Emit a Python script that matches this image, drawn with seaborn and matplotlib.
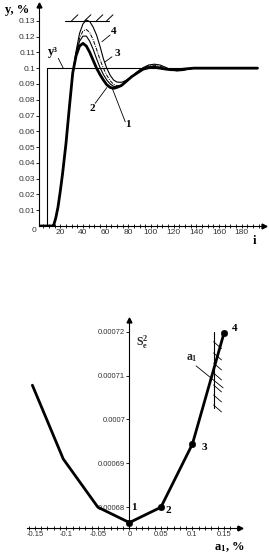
import numpy as np
import pandas as pd
import matplotlib
matplotlib.use("Agg")
import matplotlib.pyplot as plt
import seaborn as sns

# ---------------- data ----------------
i_vals = [1, 13, 14, 16, 18, 20, 22, 25, 28, 31, 34, 37, 40, 43, 46, 49, 52, 55, 58, 61,
          64, 67, 70, 74, 78, 83, 88, 93, 98, 103, 108, 113, 118, 123, 128, 133, 138, 194]
rise = [0, 0, 0, 0.005, 0.012, 0.022, 0.033, 0.052, 0.075, 0.097]
y_curve1 = rise + [0.108, 0.114, 0.1157, 0.114, 0.110, 0.105, 0.100, 0.096, 0.0925, 0.0895,
                   0.0878, 0.0872, 0.0878, 0.089, 0.0915, 0.0946, 0.097, 0.0993, 0.1003, 0.1005,
                   0.1000, 0.0994, 0.0990, 0.0990, 0.0993, 0.0997, 0.1, 0.1]
y_curve2 = rise + [0.109, 0.117, 0.1203, 0.1203, 0.117, 0.112, 0.106, 0.1005, 0.096, 0.0925,
                   0.0900, 0.0885, 0.0882, 0.089, 0.0915, 0.0946, 0.0972, 0.0996, 0.1008, 0.1010,
                   0.1005, 0.0995, 0.0988, 0.0987, 0.0990, 0.0996, 0.1, 0.1]
y_curve3 = rise + [0.110, 0.119, 0.1235, 0.1245, 0.1225, 0.118, 0.112, 0.1055, 0.100, 0.0955,
                   0.0920, 0.0898, 0.0888, 0.0895, 0.0915, 0.0946, 0.0975, 0.1000, 0.1015, 0.1018,
                   0.1012, 0.1000, 0.0988, 0.0985, 0.0988, 0.0995, 0.1, 0.1]
y_curve4 = rise + [0.111, 0.122, 0.128, 0.1305, 0.1295, 0.1260, 0.121, 0.114, 0.106, 0.100,
                   0.0955, 0.0925, 0.0912, 0.0910, 0.0922, 0.0946, 0.0978, 0.1003, 0.1020, 0.1025,
                   0.1020, 0.1005, 0.0988, 0.0982, 0.0985, 0.0993, 0.1, 0.1]
setpoint_i = [8.6, 8.6, 194]
setpoint_y = [0, 0.1, 0.1]
y_ticks = [0.01, 0.02, 0.03, 0.04, 0.05, 0.06, 0.07, 0.08, 0.09, 0.1, 0.11, 0.12, 0.13]
y_ticklabels = ["0.01", "0.02", "0.03", "0.04", "0.05", "0.06", "0.07", "0.08", "0.09",
                "0.1", "0.11", "0.12", "0.13"]
i_ticks = [20, 40, 60, 80, 100, 120, 140, 160, 180]

a1_vals = [-0.154, -0.105, -0.05, 0.0, 0.05, 0.1, 0.15]
s2_vals = [0.0007078, 0.000691, 0.00068, 0.0006765, 0.00068, 0.0006944, 0.0007196]
a1_dots = [0.0, 0.05, 0.1, 0.15]
s2_dots = [0.0006765, 0.00068, 0.0006944, 0.0007196]
dot_labels = ["1", "2", "3", "4"]
a1_ticks = [-0.15, -0.1, -0.05, 0, 0.05, 0.1, 0.15]
a1_ticklabels = ["-0.15", "-0.1", "-0.05", "0", "0.05", "0.1", "0.15"]
s2_ticks = [0.00068, 0.00069, 0.0007, 0.00071, 0.00072]
s2_ticklabels = ["0.00068", "0.00069", "0.0007", "0.00071", "0.00072"]

# ---------------- style ----------------
sns.set_theme(style="white")
plt.rcParams["font.family"] = ["Liberation Sans", "DejaVu Sans"]
plt.rcParams["mathtext.fontset"] = "custom"
plt.rcParams["mathtext.bf"] = "Liberation Serif:bold"
plt.rcParams["mathtext.rm"] = "Liberation Serif"
plt.rcParams["mathtext.it"] = "Liberation Serif:italic"

W, H = 269, 559
fig = plt.figure(figsize=(W / 100, H / 100), dpi=100)
serif_b = dict(family="Liberation Serif", weight="bold", color="black")
tick_col = "#333333"

# ================= top chart =================
ax = fig.add_axes([39.3 / W, 333 / H, 225 / W, 221 / H])
curves = [(y_curve2, 0.8, "-"), (y_curve3, 0.7, (0, (4, 1.2, 1, 1.2))),
          (y_curve4, 0.8, "-"), (y_curve1, 2.0, "-")]
for ys, lw, ls in curves:
    sns.lineplot(x=i_vals, y=ys, ax=ax, color="black", linewidth=lw, linestyle=ls,
                 estimator=None, sort=False)
sns.lineplot(x=setpoint_i, y=setpoint_y, ax=ax, color="black", linewidth=0.8,
             estimator=None, sort=False)

ax.set_xlim(1.5, 200)
ax.set_ylim(0, 0.14)
for s in ["top", "right"]:
    ax.spines[s].set_visible(False)
for s in ["left", "bottom"]:
    ax.spines[s].set_color("black")
    ax.spines[s].set_linewidth(0.8)
ax.set_yticks(y_ticks)
ax.set_yticklabels(y_ticklabels)
ax.set_xticks(i_ticks)
ax.set_xticks(np.arange(5, 200, 5), minor=True)
ax.tick_params(axis="x", which="both", direction="inout", length=3, width=0.6,
               labelsize=6, pad=0.5, colors="black", labelcolor=tick_col, bottom=True)
ax.tick_params(axis="y", which="major", direction="out", length=2.5, width=0.6,
               labelsize=6, pad=0.5, colors="black", labelcolor=tick_col, left=True)
ax.grid(False)
ax.plot(1, 0, ">", color="black", markersize=3.5, transform=ax.transAxes, clip_on=False)
ax.plot(0, 1, "^", color="black", markersize=3.5, transform=ax.transAxes, clip_on=False)
fig.text(34 / W, 1 - 230 / H, "0", fontsize=6, color=tick_col, ha="center", va="center")

# hatched constraint line
ax.plot([24, 63], [0.13, 0.13], color="black", lw=0.8)
for hx in [30, 41.5, 52, 61]:
    ax.plot([hx, hx + 5.5], [0.13, 0.1338], color="black", lw=0.7)

# labels and leaders
ax.text(13.9, 0.1104, "y³", fontsize=9, ha="center", va="center", **serif_b)
ax.plot([18.3, 22.7], [0.1062, 0.0999], color="black", lw=0.6)
ax.text(66.7, 0.1229, "4", fontsize=8, ha="center", va="center", **serif_b)
ax.plot([64, 56.7], [0.121, 0.1167], color="black", lw=0.6)
ax.text(70.3, 0.109, "3", fontsize=8, ha="center", va="center", **serif_b)
ax.plot([65.6, 59.6], [0.1072, 0.104], color="black", lw=0.6)
ax.text(48.1, 0.0747, "2", fontsize=8, ha="center", va="center", **serif_b)
ax.plot([50.8, 61.1], [0.0777, 0.0877], color="black", lw=0.6)
ax.text(80, 0.0646, "1", fontsize=8, ha="center", va="center", **serif_b)
ax.plot([77.3, 65.6], [0.066, 0.0877], color="black", lw=0.6)
fig.text(17 / W, 1 - 10 / H, "y, %", fontsize=9, ha="center", va="center", **serif_b)
fig.text(254 / W, 1 - 241 / H, "i", fontsize=9, ha="center", va="center", **serif_b)

# ================= bottom chart =================
bx = fig.add_axes([26.7 / W, 30.7 / H, 213.6 / W, 208.5 / H])
sns.lineplot(x=a1_vals, y=s2_vals, ax=bx, color="black", linewidth=2.0, sort=False,
             estimator=None)
sns.scatterplot(x=a1_dots, y=s2_dots, ax=bx, color="black", s=22, edgecolor="black", zorder=5)
bx.set_xlim(-0.163, 0.176)
bx.set_ylim(0.0006752, 0.0007227)
for s in ["top", "right"]:
    bx.spines[s].set_visible(False)
bx.spines["left"].set_position(("data", 0))
for s in ["left", "bottom"]:
    bx.spines[s].set_color("black")
    bx.spines[s].set_linewidth(0.8)
bx.set_xticks(a1_ticks)
bx.set_xticklabels(a1_ticklabels)
bx.set_xticks(np.arange(-0.16, 0.171, 0.01), minor=True)
bx.set_yticks(s2_ticks)
bx.set_yticklabels(s2_ticklabels)
bx.tick_params(axis="x", which="both", direction="inout", length=3, width=0.6,
               labelsize=5.5, pad=0.5, colors="black", labelcolor=tick_col, bottom=True)
bx.tick_params(axis="y", which="major", direction="out", length=2.5, width=0.6,
               labelsize=5.5, pad=0.5, colors="black", labelcolor=tick_col, left=True)
bx.grid(False)
bx.plot(1, 0, ">", color="black", markersize=3.5, transform=bx.transAxes, clip_on=False)
bx.plot(0, 1, "^", color="black", markersize=3.5, transform=bx.get_xaxis_transform(),
        clip_on=False)

label_pos = [(0.0065, 0.00068), (0.0614, 0.0006792), (0.1186, 0.0006937), (0.1678, 0.0007208)]
for (lx, ly), lab in zip(label_pos, dot_labels):
    bx.text(lx, ly, lab, fontsize=8, ha="center", va="center", **serif_b)

# hatched constraint (vertical)
per_px_y = 1e-5 / 43.9
per_px_x = 0.05 / 31.5
bx.plot([0.1335, 0.1335], [0.0007026, 0.000720], color="black", lw=0.8)
for ypix in [341.7, 353, 363, 373, 385, 395, 405]:
    y0 = 0.00068 + (507.3 - ypix) * per_px_y
    bx.plot([0.1335, 0.1335 + 8 * per_px_x], [y0, y0 - 7 * per_px_y], color="black", lw=0.6)
bx.plot([0.1059, 0.1487], [0.0007122, 0.0007072], color="black", lw=0.6)
bx.text(0.0998, 0.0007139, "$\\mathbf{a_1}$", fontsize=8.5, ha="center", va="center")
bx.text(0.0197, 0.0007177, "$\\mathbf{S_e^2}$", fontsize=8.5, ha="center", va="center")
fig.text(229 / W, 1 - 546.7 / H, "$\\mathbf{a_1}$, %", fontsize=9, ha="center", va="center",
         **serif_b)

fig.savefig("out.png", dpi=100)
